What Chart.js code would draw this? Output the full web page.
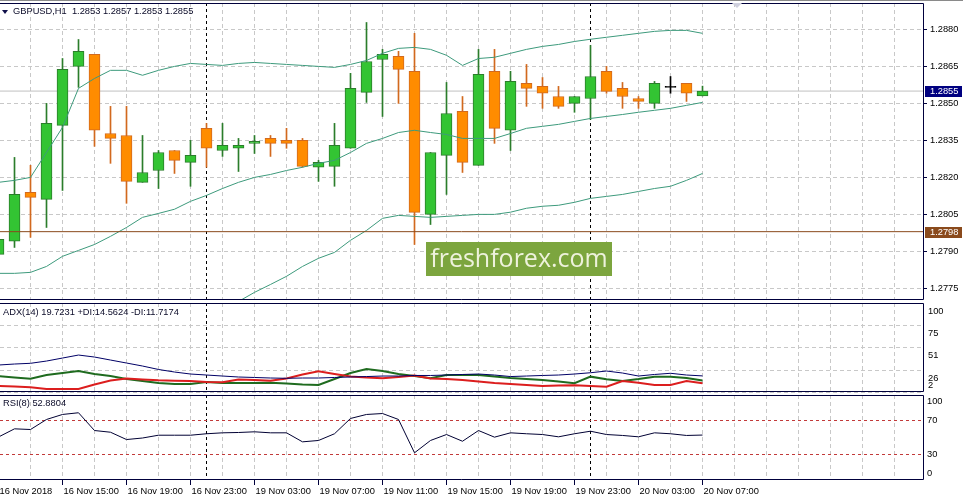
<!DOCTYPE html>
<html lang="en">
<head>
<meta charset="UTF-8">
<title>GBPUSD,H1</title>
<script src="https://cdn.jsdelivr.net/npm/chart.js"></script>
<style>
    body { margin: 0; background: #fff; }
    #wrap { position: relative; width: 963px; height: 499px; overflow: hidden; background: #fff;
            font-family: 'Liberation Sans', Arial, sans-serif; }
    canvas { position: absolute; left: 0; }
    #mainChart { top: 0; }
    #adxChart { top: 302px; }
    #rsiChart { top: 394px; }
    #topEdge { position: absolute; left: 0; top: 0; width: 963px; height: 1px; background: #8a8a8a; }
    .caption { position: absolute; font-size: 9.3px; line-height: 11px; color: #0a0a28; white-space: pre; }
    #mainCaption { left: 13px; top: 6px; }
    #adxCaption { left: 3px; top: 307px; }
    #rsiCaption { left: 3px; top: 398px; }
    #menuArrow { position: absolute; left: 2px; top: 10px; width: 0; height: 0;
                 border-left: 3px solid transparent; border-right: 3px solid transparent; border-top: 4px solid #10104a; }
    #shiftMark { position: absolute; left: 732px; top: 3px; width: 0; height: 0;
                 border-left: 5px solid transparent; border-right: 5px solid transparent; border-top: 5px solid #cfd0de; }
    #logo { position: absolute; left: 426px; top: 242px; width: 186px; height: 34px; background: #7ca53e;
            color: #eef2dc; font-family: 'Open Sans', sans-serif; font-size: 25px; line-height: 30px; text-align: center; }
</style>
</head>
<body>
<div id="wrap">
    <canvas id="mainChart" width="963" height="301"></canvas>
    <canvas id="adxChart" width="963" height="91"></canvas>
    <canvas id="rsiChart" width="963" height="105"></canvas>
    <div id="topEdge"></div>
    <div id="menuArrow"></div>
    <div id="mainCaption" class="caption"></div>
    <div id="adxCaption" class="caption"></div>
    <div id="rsiCaption" class="caption"></div>
    <div id="shiftMark"></div>
    <div id="logo">freshforex.com</div>
</div>

<script>
// GBPUSD H1, bars from 16 Nov 11:00 to 20 Nov 07:00
const opens  = [1.27888, 1.27941, 1.28139, 1.28111, 1.28411, 1.28650, 1.28699, 1.28378, 1.28370, 1.28180,
                1.28228, 1.28309, 1.28261, 1.28399, 1.28309, 1.28318, 1.28338, 1.28358, 1.28350, 1.28350,
                1.28241, 1.28245, 1.28318, 1.28545, 1.28678, 1.28691, 1.28630, 1.28050, 1.28289, 1.28468,
                1.28249, 1.28630, 1.28391, 1.28581, 1.28569, 1.28528, 1.28500, 1.28520, 1.28630, 1.28561,
                1.28520, 1.28500, 1.28565, 1.28581, 1.2853];
const highs  = [1.27961, 1.28281, 1.28249, 1.28500, 1.28682, 1.28759, 1.28699, 1.28488, 1.28488, 1.28370,
                1.28309, 1.28309, 1.28350, 1.28419, 1.28419, 1.28358, 1.28370, 1.28370, 1.28399, 1.28358,
                1.28269, 1.28419, 1.28622, 1.28828, 1.28719, 1.28711, 1.28784, 1.28301, 1.28585, 1.28528,
                1.28719, 1.28719, 1.28630, 1.28658, 1.28605, 1.28569, 1.28528, 1.28735, 1.28650, 1.28585,
                1.28528, 1.28589, 1.28609, 1.28581, 1.2857];
const lows   = [1.27872, 1.27916, 1.27957, 1.27997, 1.28147, 1.28565, 1.28326, 1.28257, 1.28095, 1.28180,
                1.28155, 1.28216, 1.28164, 1.28241, 1.28285, 1.28224, 1.28297, 1.28285, 1.28318, 1.28241,
                1.28184, 1.28164, 1.28318, 1.28504, 1.28447, 1.28500, 1.27928, 1.28009, 1.28131, 1.28220,
                1.28249, 1.28338, 1.28309, 1.28488, 1.28480, 1.28480, 1.28464, 1.28435, 1.28541, 1.28480,
                1.28480, 1.28480, 1.28541, 1.28508, 1.2853];
const closes = [1.27949, 1.28131, 1.28119, 1.28419, 1.28638, 1.28711, 1.28391, 1.28358, 1.28184, 1.28220,
                1.28301, 1.28269, 1.28289, 1.28318, 1.28330, 1.28330, 1.28346, 1.28338, 1.28338, 1.28245,
                1.28261, 1.28330, 1.28561, 1.28670, 1.28699, 1.28638, 1.28058, 1.28301, 1.28459, 1.28261,
                1.28618, 1.28399, 1.28589, 1.28561, 1.28541, 1.28488, 1.28528, 1.28609, 1.28549, 1.28528,
                1.28508, 1.28581, 1.28565, 1.28541, 1.2855];

// Bollinger bands
const bbUpper  = [1.28180, 1.28188, 1.28200, 1.28301, 1.28403, 1.28561, 1.28601, 1.28634, 1.28634, 1.28614,
                  1.28634, 1.28650, 1.28662, 1.28658, 1.28654, 1.28662, 1.28666, 1.28662, 1.28658, 1.28654,
                  1.28650, 1.28646, 1.28658, 1.28674, 1.28703, 1.28723, 1.28727, 1.28719, 1.28695, 1.28654,
                  1.28682, 1.28687, 1.28703, 1.28719, 1.28731, 1.28739, 1.28751, 1.28760, 1.28768, 1.28776,
                  1.28784, 1.28792, 1.28796, 1.28796, 1.28784];
const bbMiddle = [1.27811, 1.27811, 1.27815, 1.27839, 1.27880, 1.27904, 1.27928, 1.27961, 1.27997, 1.28038,
                  1.28054, 1.28071, 1.28103, 1.28127, 1.28155, 1.28180, 1.28200, 1.28212, 1.28228, 1.28241,
                  1.28257, 1.28269, 1.28301, 1.28338, 1.28358, 1.28382, 1.28391, 1.28382, 1.28374, 1.28358,
                  1.28358, 1.28358, 1.28378, 1.28399, 1.28407, 1.28415, 1.28427, 1.28439, 1.28447, 1.28455,
                  1.28464, 1.28472, 1.28480, 1.28492, 1.28504];
const bbLower  = [1.27442, 1.27434, 1.27430, 1.27377, 1.27357, 1.27247, 1.27256, 1.27288, 1.27361, 1.27462,
                  1.27474, 1.27491, 1.27539, 1.27596, 1.27657, 1.27697, 1.27734, 1.27766, 1.27799, 1.27839,
                  1.27872, 1.27896, 1.27945, 1.27985, 1.28034, 1.28046, 1.28042, 1.28038, 1.28042, 1.28046,
                  1.28050, 1.28050, 1.28059, 1.28075, 1.28083, 1.28087, 1.28099, 1.28115, 1.28123, 1.28131,
                  1.28143, 1.28155, 1.28164, 1.28188, 1.28216];

// ADX(14)
const adxMain = [31.7, 32.8, 33.6, 36.1, 39.4, 42.7, 40.5, 37.2, 33.9, 30.6,
                 26.8, 24.0, 21.8, 20.7, 19.6, 18.5, 18.0, 17.4, 17.1, 17.4,
                 17.4, 18.0, 18.5, 19.0, 19.6, 19.6, 20.2, 20.2, 20.7, 21.3,
                 21.8, 20.7, 19.0, 19.6, 20.2, 20.7, 21.8, 23.2, 25.1, 22.9,
                 19.6, 21.3, 22.6, 20.7, 19.7231];
const plusDI  = [19.6, 18.0, 16.6, 20.7, 22.9, 25.1, 21.8, 19.6, 16.3, 14.1,
                 11.9, 10.8, 10.8, 13.0, 11.9, 11.9, 11.9, 12.2, 11.3, 10.2,
                 9.7, 16.3, 22.9, 27.3, 25.1, 21.8, 19.6, 17.1, 20.7, 20.7,
                 20.7, 19.0, 17.4, 16.3, 15.2, 13.5, 11.6, 18.9, 16.0, 14.1,
                 16.3, 18.9, 18.9, 17.4, 14.5624];
const minusDI = [8.6, 8.0, 7.2, 5.3, 5.3, 5.3, 10.2, 14.6, 16.9, 15.8,
                 14.9, 14.4, 14.1, 13.0, 12.7, 15.8, 15.2, 14.4, 16.9, 21.3,
                 24.8, 21.8, 19.0, 18.0, 17.1, 18.5, 20.2, 16.9, 16.3, 15.2,
                 13.5, 11.9, 10.8, 9.7, 8.6, 9.1, 9.3, 8.6, 7.8, 14.1,
                 12.2, 9.7, 9.7, 14.1, 11.7174];

// RSI(8)
const rsi8 = [50.6, 60.2, 59.4, 71.2, 77.1, 79.1, 58.2, 56.2, 47.6, 49.4,
              52.7, 52.7, 52.7, 54.4, 55.5, 55.9, 56.7, 55.5, 55.5, 44.9,
              46.5, 54.4, 72.4, 77.1, 78.2, 71.2, 32.0, 46.5, 53.5, 45.6,
              58.2, 50.4, 55.5, 54.4, 53.5, 50.8, 54.4, 57.4, 53.5, 52.4,
              50.8, 55.5, 54.4, 52.4, 52.8804];

const priceTicks = [1.2775, 1.2790, 1.2805, 1.2820, 1.2835, 1.2850, 1.2865, 1.2880];
const adxTicks = [100, 75, 51, 26, 2];
const rsiTicks = [100, 70, 30, 0];
const rsiLevels = [70, 30];
const xLabels = ['16 Nov 2018', '16 Nov 15:00', '16 Nov 19:00', '16 Nov 23:00', '19 Nov 03:00', '19 Nov 07:00',
                 '19 Nov 11:00', '19 Nov 15:00', '19 Nov 19:00', '19 Nov 23:00', '20 Nov 03:00', '20 Nov 07:00'];
const daySeparators = [13, 37];   // first bars of 19 Nov and 20 Nov
const bidPrice = 1.2855;
const hLinePrice = 1.2798;

// view window (chart is scrolled so the first bar is half cut)
const X_MIN = 0.09375, X_MAX = 57.78125;
const Y_MIN = 1.27703, Y_MAX = 1.28907;

const FRAME = '#00003c';
const GRID = '#c8c8c8';
const TEXT = '#000000';
const FONT = { family: "'Liberation Sans', Arial, sans-serif", size: 9.3 };
const UP_FILL = '#33c433', UP_LINE = '#2b7d2b';
const DN_FILL = '#ff8c00', DN_LINE = '#d2691e';
const DOJI = '#000000';

const bars = closes.map((c, i) => i);
const dir = closes.map((c, i) => Math.sign(c - opens[i]));
const fillOf = d => d > 0 ? UP_FILL : d < 0 ? DN_FILL : DOJI;
const lineOf = d => d > 0 ? UP_LINE : d < 0 ? DN_LINE : DOJI;

const gridBars = [];
for (let i = 0; i <= 56; i += 2) gridBars.push(i);
const labelAt = v => (v % 4 === 0 && v / 4 < xLabels.length) ? xLabels[v / 4] : '';

const last = closes.length - 1;
document.getElementById('mainCaption').textContent =
    'GBPUSD,H1  ' + [opens[last], highs[last], lows[last], closes[last]].map(v => v.toFixed(4)).join(' ');
document.getElementById('adxCaption').textContent =
    'ADX(14) ' + adxMain[last].toFixed(4) + ' +DI:' + plusDI[last].toFixed(4) + ' -DI:' + minusDI[last].toFixed(4);
document.getElementById('rsiCaption').textContent = 'RSI(8) ' + rsi8[last].toFixed(4);

function xAxis(withLabels) {
    return {
        type: 'linear', min: X_MIN, max: X_MAX, offset: false,
        afterBuildTicks: s => { s.ticks = gridBars.map(v => ({ value: v })); },
        afterFit: s => { s.height = withLabels ? 19 : 0; s.paddingLeft = 0; s.paddingRight = 0; },
        grid: {
            offset: false, color: GRID, lineWidth: 1,
            drawTicks: withLabels, tickLength: 5,
            tickColor: c => labelAt(c.tick.value) ? FRAME : 'rgba(0,0,0,0)'
        },
        border: { display: false, dash: [4, 3] },
        ticks: {
            display: withLabels, autoSkip: false, maxRotation: 0, minRotation: 0,
            align: 'start', padding: 1, labelOffset: 1, color: TEXT, font: FONT,
            callback: v => labelAt(v)
        }
    };
}

function line(values, color, width, order, yAxisID) {
    return {
        type: 'line', data: values.map((v, i) => ({ x: i, y: v })),
        borderColor: color, borderWidth: width, pointRadius: 0, tension: 0, fill: false,
        order: order, yAxisID: yAxisID || 'y'
    };
}

function level(value, color, dash, order) {
    return {
        type: 'line', data: [{ x: X_MIN, y: value }, { x: X_MAX, y: value }],
        borderColor: color, borderWidth: 1, borderDash: dash, pointRadius: 0, fill: false, order: order
    };
}

const framePlugin = {
    id: 'frame',
    afterDraw(chart) {
        const { ctx, chartArea: a } = chart;
        ctx.save();
        ctx.strokeStyle = FRAME;
        ctx.lineWidth = 1;
        ctx.beginPath();
        ctx.moveTo(0, a.top + 0.5);
        ctx.lineTo(a.right + 0.5, a.top + 0.5);
        ctx.lineTo(a.right + 0.5, a.bottom - 0.5);
        ctx.lineTo(0, a.bottom - 0.5);
        ctx.stroke();
        ctx.restore();
    }
};

const separatorPlugin = {
    id: 'separators',
    beforeDatasetsDraw(chart) {
        const { ctx, chartArea: a, scales: { x } } = chart;
        ctx.save();
        ctx.strokeStyle = '#000';
        ctx.lineWidth = 1;
        ctx.setLineDash([3, 3]);
        daySeparators.forEach(b => {
            const px = Math.round(x.getPixelForValue(b) - 0.5) + 0.5;
            ctx.beginPath();
            ctx.moveTo(px, a.top);
            ctx.lineTo(px, a.bottom);
            ctx.stroke();
        });
        ctx.restore();
    }
};

const priceTagPlugin = {
    id: 'priceTags',
    afterDraw(chart) {
        const { ctx, chartArea: a, scales: { y } } = chart;
        ctx.save();
        ctx.font = FONT.size + 'px ' + FONT.family;
        ctx.textBaseline = 'middle';
        [[bidPrice, '#000080'], [hLinePrice, '#8a4a1c']].forEach(([p, bg]) => {
            const py = Math.round(y.getPixelForValue(p));
            ctx.fillStyle = bg;
            ctx.fillRect(a.right + 2, py - 5, 37, 11);
            ctx.fillStyle = '#ffffff';
            ctx.fillText(p.toFixed(4), a.right + 7, py + 0.5);
        });
        ctx.restore();
    }
};

const common = {
    responsive: false,
    animation: false,
    events: [],
    plugins: { legend: { display: false }, tooltip: { enabled: false } }
};

// price window
new Chart(document.getElementById('mainChart'), {
    type: 'bar',
    data: {
        datasets: [
            {
                type: 'bar', data: bars.map(i => ({ x: i, y: [lows[i], highs[i]] })),
                backgroundColor: dir.map(lineOf), borderWidth: 0, barThickness: 1, grouped: false, order: 4
            },
            {
                type: 'bar', data: bars.map(i => ({ x: i, y: [opens[i], closes[i]] })),
                backgroundColor: dir.map(fillOf), borderColor: dir.map(lineOf), borderWidth: 1,
                borderSkipped: false, barThickness: 11, minBarLength: 1, grouped: false, order: 3
            },
            level(bidPrice, '#c0c0c0', [], 5),
            line(bbUpper, '#3d9a7c', 1, 2),
            line(bbMiddle, '#3d9a7c', 1, 2),
            line(bbLower, '#3d9a7c', 1, 2),
            level(hLinePrice, '#8a4a1c', [], 1)
        ]
    },
    options: Object.assign({}, common, {
        layout: { autoPadding: false, padding: { top: 3, bottom: 1, left: 0, right: 0 } },
        scales: {
            x: xAxis(false),
            y: {
                type: 'linear', position: 'right', min: Y_MIN, max: Y_MAX, beginAtZero: false,
                afterBuildTicks: s => { s.ticks = priceTicks.map(v => ({ value: v })); },
                afterFit: s => { s.width = 40; s.paddingTop = 0; s.paddingBottom = 0; },
                grid: { color: GRID, drawTicks: true, tickLength: 4, tickColor: FRAME },
                border: { display: false, dash: [4, 3] },
                ticks: { padding: 3, autoSkip: false, color: TEXT, font: FONT, callback: v => v.toFixed(4) }
            }
        }
    }),
    plugins: [separatorPlugin, framePlugin, priceTagPlugin]
});

// ADX window
new Chart(document.getElementById('adxChart'), {
    type: 'line',
    data: {
        datasets: [
            line(plusDI, '#1f6b1f', 2, 3),
            line(minusDI, '#dc1e1e', 2, 2),
            line(adxMain, '#000066', 1, 1)
        ]
    },
    options: Object.assign({}, common, {
        layout: { autoPadding: false, padding: { top: 1, bottom: 1, left: 0, right: 0 } },
        scales: {
            x: xAxis(false),
            y: {
                type: 'linear', position: 'right', min: 2, max: 100,
                afterBuildTicks: s => { s.ticks = adxTicks.map(v => ({ value: v })); },
                afterFit: s => { s.width = 0; s.paddingTop = 0; s.paddingBottom = 0; },
                grid: { color: GRID, drawTicks: false },
                border: { display: false, dash: [4, 3] },
                ticks: { display: false }
            },
            yl: {
                type: 'linear', position: 'right', min: 2, max: 100,
                // labels sit just under their level, the lowest one is kept inside the window
                afterBuildTicks: s => { s.ticks = adxTicks.map(v => ({ value: Math.max(v - 8.8, 9.7) })); },
                afterFit: s => { s.width = 40; s.paddingTop = 0; s.paddingBottom = 0; },
                grid: { display: false, drawTicks: false },
                border: { display: false },
                ticks: { padding: 5, autoSkip: false, color: TEXT, font: FONT, callback: (v, i) => String(adxTicks[i]) }
            }
        }
    }),
    plugins: [separatorPlugin, framePlugin]
});

// RSI window with the time axis
new Chart(document.getElementById('rsiChart'), {
    type: 'line',
    data: {
        datasets: [
            ...rsiLevels.map(l => level(l, '#c23a3a', [3, 3], 2)),
            line(rsi8, '#000033', 1, 1)
        ]
    },
    options: Object.assign({}, common, {
        layout: { autoPadding: false, padding: { top: 1, bottom: 0, left: 0, right: 0 } },
        scales: {
            x: xAxis(true),
            y: {
                type: 'linear', position: 'right', min: 0, max: 100,
                afterBuildTicks: s => { s.ticks = rsiTicks.map(v => ({ value: Math.min(Math.max(v, 7.6), 92.4) })); },
                afterFit: s => { s.width = 40; s.paddingTop = 0; s.paddingBottom = 0; },
                grid: { display: false, drawTicks: false },
                border: { display: false },
                ticks: { padding: 4, autoSkip: false, color: TEXT, font: FONT, callback: (v, i) => String(rsiTicks[i]) }
            }
        }
    }),
    plugins: [separatorPlugin, framePlugin]
});
</script>
</body>
</html>
